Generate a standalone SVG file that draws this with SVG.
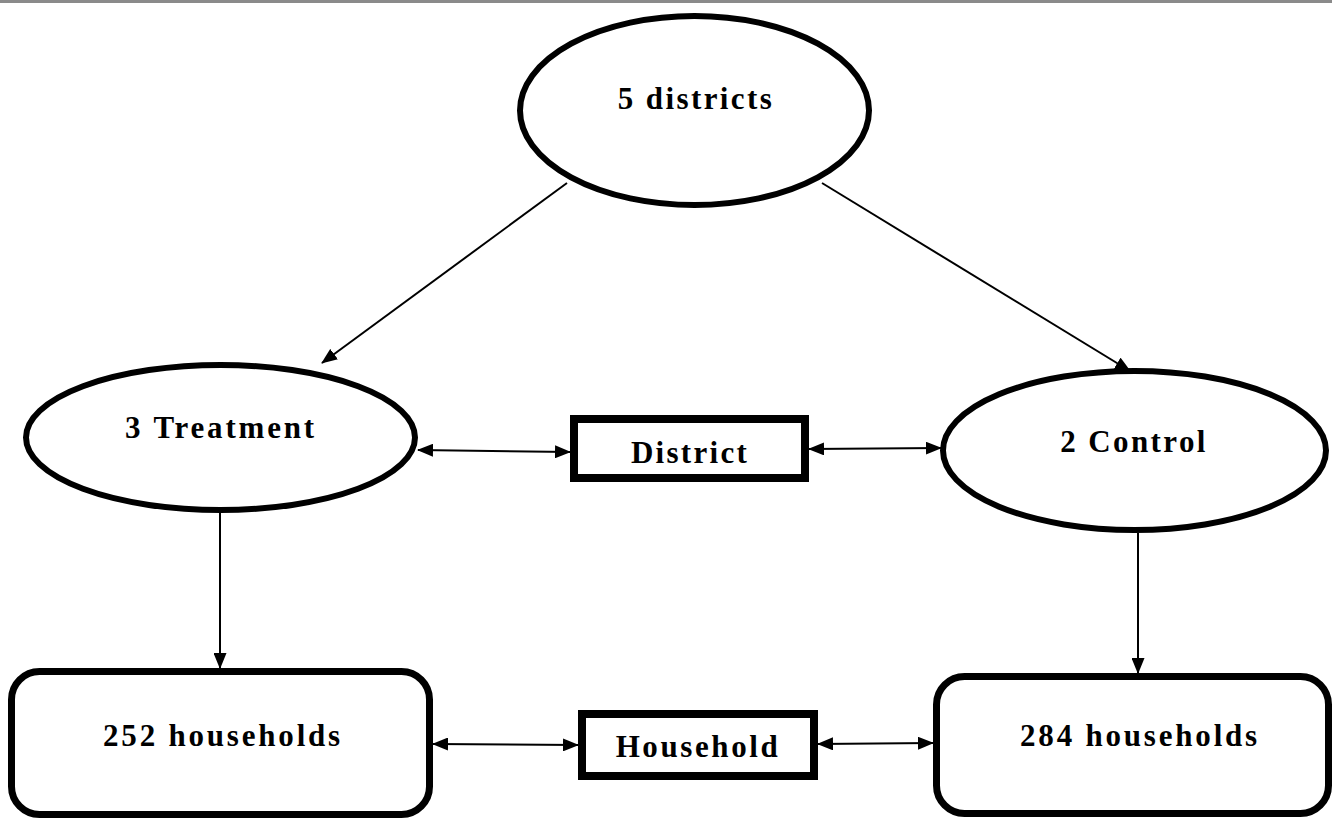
<svg xmlns="http://www.w3.org/2000/svg" width="1332" height="821" viewBox="0 0 1332 821">
  <defs>
    <marker id="ah" markerUnits="userSpaceOnUse" markerWidth="16" markerHeight="13" refX="15" refY="6.5" orient="auto-start-reverse" viewBox="0 0 16 13">
      <path d="M0,0 L16,6.5 L0,13 z" fill="#000"/>
    </marker>
  </defs>
  <style>
    .shape { fill: #fff; stroke: #000; }
    .lbl { font-family: "Liberation Serif", "Times New Roman", serif; font-weight: bold; font-size: 31px; fill: #000; text-anchor: middle; }
    .conn line { stroke: #000; stroke-width: 2; fill: none; }
  </style>
  <rect x="0" y="0" width="1332" height="821" fill="#fff"/>
  <line x1="0" y1="1.5" x2="1332" y2="1.5" stroke="#8a8a8a" stroke-width="3"/>

  <g id="conn" class="conn">
    <line x1="567" y1="183" x2="322" y2="363" marker-end="url(#ah)"/>
    <line x1="822" y1="183" x2="1130" y2="371" marker-end="url(#ah)"/>
    <line x1="418" y1="450" x2="570" y2="452" marker-start="url(#ah)" marker-end="url(#ah)"/>
    <line x1="809" y1="449" x2="941" y2="448" marker-start="url(#ah)" marker-end="url(#ah)"/>
    <line x1="220" y1="513" x2="220" y2="668" marker-end="url(#ah)"/>
    <line x1="1138" y1="533" x2="1138" y2="673" marker-end="url(#ah)"/>
    <line x1="433" y1="744" x2="578" y2="745" marker-start="url(#ah)" marker-end="url(#ah)"/>
    <line x1="818" y1="744" x2="933" y2="743" marker-start="url(#ah)" marker-end="url(#ah)"/>
  </g>

  <g id="districts">
    <ellipse class="shape" cx="694.5" cy="110.5" rx="174.5" ry="94.5" stroke-width="6"/>
    <text class="lbl" x="696" y="109" style="letter-spacing:2.4px">5 districts</text>
  </g>
  <g id="treatment">
    <ellipse class="shape" cx="220.5" cy="437.5" rx="194.5" ry="72.5" stroke-width="6"/>
    <text class="lbl" x="221" y="438" style="letter-spacing:2.8px">3 Treatment</text>
  </g>
  <g id="control">
    <ellipse class="shape" cx="1134.5" cy="450.5" rx="191.5" ry="79.5" stroke-width="6"/>
    <text class="lbl" x="1134" y="452" style="letter-spacing:2.4px">2 Control</text>
  </g>
  <g id="district">
    <rect class="shape" x="574" y="419" width="231" height="59" stroke-width="8"/>
    <text class="lbl" x="690" y="463" style="letter-spacing:2.3px">District</text>
  </g>
  <g id="hh252">
    <rect class="shape" x="11.5" y="671.5" width="418" height="143" rx="28" stroke-width="7"/>
    <text class="lbl" x="223" y="746" style="letter-spacing:2.8px">252 households</text>
  </g>
  <g id="household">
    <rect class="shape" x="582" y="714" width="232" height="62" stroke-width="8"/>
    <text class="lbl" x="698" y="757" style="letter-spacing:2.6px">Household</text>
  </g>
  <g id="hh284">
    <rect class="shape" x="936.5" y="676.5" width="392" height="137" rx="28" stroke-width="7"/>
    <text class="lbl" x="1140" y="746" style="letter-spacing:2.8px">284 households</text>
  </g>
</svg>
